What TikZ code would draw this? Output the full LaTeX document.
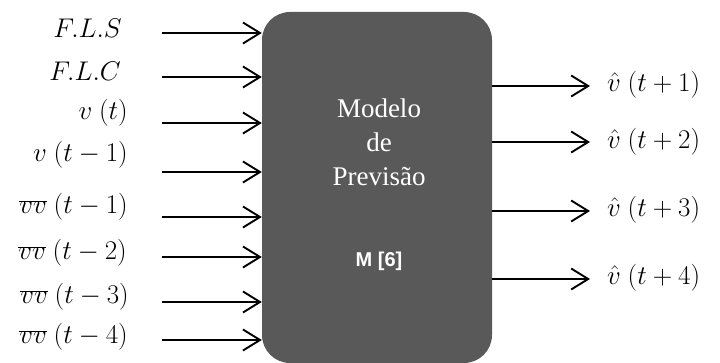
\RequirePackage{fix-cm}
\documentclass[tikz,border=0pt]{standalone}
\usepackage{fontspec}
\setmainfont{Liberation Serif}
\newfontfamily\arialfont{Liberation Sans}
\usetikzlibrary{arrows.meta}
\definecolor{boxgray}{HTML}{595959}
\begin{document}
\begin{tikzpicture}[x=1pt,y=-1pt,
  lab/.style={anchor=east, inner sep=0pt, font=\fontsize{27}{31}\selectfont},
  olab/.style={anchor=west, inner sep=0pt, font=\fontsize{27}{31}\selectfont},
  arr/.style={line width=1.9pt, -{Straight Barb[length=17pt,width=21pt,line width=1.9pt]}},
  blk/.style={fill=boxgray, draw=none, rounded corners=28pt, minimum width=230pt, minimum height=351pt, inner sep=0pt},
  ]
\useasboundingbox (0,0) rectangle (720,363);
\node[blk] (box) at (377,187.5) {};
\node[text=white, align=center, font=\fontsize{27}{34}\selectfont] (title) at (379,142) {Modelo\\de\\Previsão};
\node[text=white, font=\arialfont\bfseries\fontsize{20}{24}\selectfont] (mref) at (379,261) {M [6]};

% inputs
\coordinate (s1) at (162,33);
\coordinate (s2) at (162,77);
\coordinate (s3) at (162,123);
\coordinate (s4) at (162,172);
\coordinate (s5) at (162,217);
\coordinate (s6) at (162,257);
\coordinate (s7) at (162,302);
\coordinate (s8) at (162,340);
\foreach \i in {1,...,8} {\draw[arr] (s\i) -- (s\i -| box.west);}

\node[lab] (l1) at (122,28) {$F.L.S$};
\node[lab] (l2) at (121,71) {$F.L.C$};
\node[lab] (l3) at (128,113) {$v\ (t)$};
\node[lab] (l4) at (128,155) {$v\ (t-1)$};
\node[lab] (l5) at (128,207) {$\overline{vv}\ (t-1)$};
\node[lab] (l6) at (127,253) {$\overline{vv}\ (t-2)$};
\node[lab] (l7) at (129,297) {$\overline{vv}\ (t-3)$};
\node[lab] (l8) at (128,337) {$\overline{vv}\ (t-4)$};

% outputs
\coordinate (e1) at (590,86);
\coordinate (e2) at (590,142);
\coordinate (e3) at (590,211);
\coordinate (e4) at (590,279);
\foreach \i in {1,...,4} {\draw[arr] (e\i -| box.east) -- (e\i);}

\node[olab] (o1) at (607,85) {$\hat{v}\ (t+1)$};
\node[olab] (o2) at (607,142) {$\hat{v}\ (t+2)$};
\node[olab] (o3) at (607,210) {$\hat{v}\ (t+3)$};
\node[olab] (o4) at (607,278) {$\hat{v}\ (t+4)$};
\end{tikzpicture}
\end{document}
